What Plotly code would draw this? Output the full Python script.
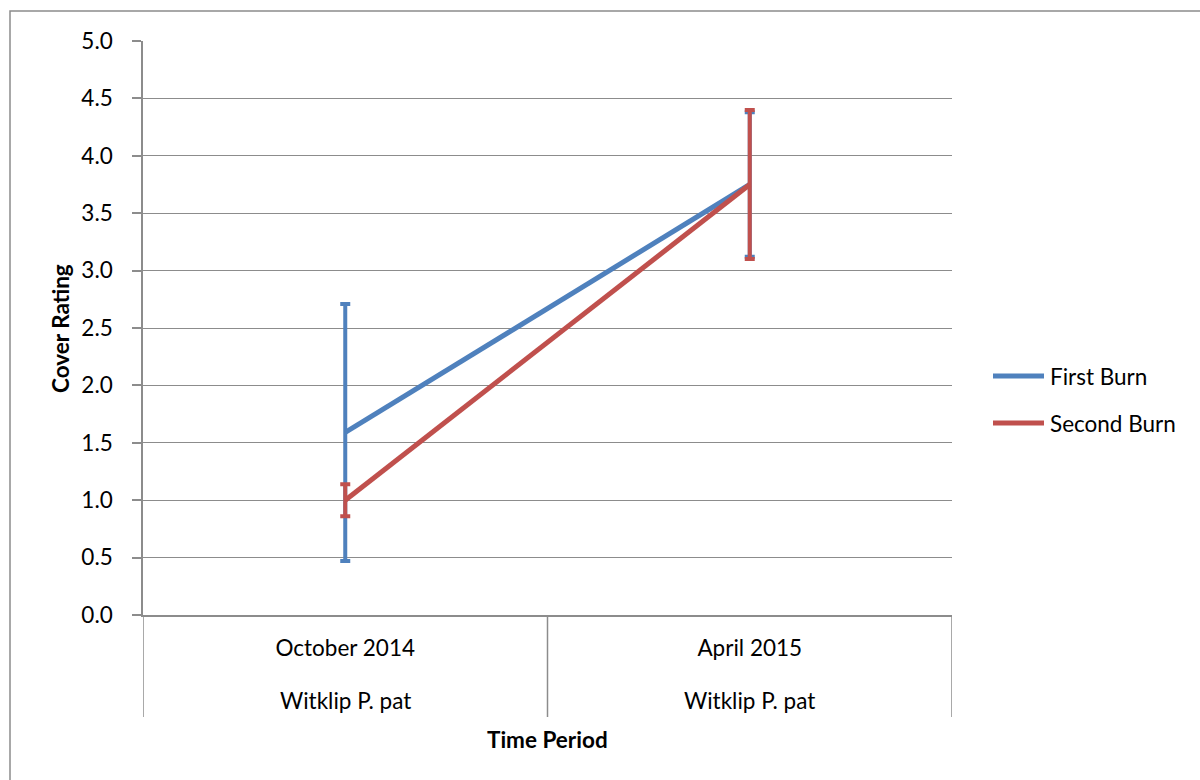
import plotly.graph_objects as go

# Category labels (two-level: period over site)
periods = ["October 2014", "April 2015"]
sites = ["Witklip P. pat", "Witklip P. pat"]

# Mean cover rating and error (± half range) per burn treatment
first_burn = [1.59, 3.75]
first_burn_err = [1.12, 0.63]
second_burn = [1.0, 3.75]
second_burn_err = [0.14, 0.65]

y_ticks = [0.0, 0.5, 1.0, 1.5, 2.0, 2.5, 3.0, 3.5, 4.0, 4.5, 5.0]

BLUE = "#4F81BD"
RED = "#C0504D"
GRID = "#8C8C8C"
FONT = "Lato"
FS = 22.5

xpos = list(range(len(periods)))

fig = go.Figure()
series = [
    ("First Burn", first_burn, first_burn_err, BLUE),
    ("Second Burn", second_burn, second_burn_err, RED),
]
for name, vals, errs, col in series:
    fig.add_trace(go.Scatter(
        x=xpos, y=vals, name=name, mode="lines",
        line=dict(color=col, width=5),
        error_y=dict(type="data", array=errs, visible=True,
                     color=col, thickness=4, width=5),
        showlegend=False,
    ))

L, R, T, B = 143, 248, 41, 165
W, H = 1200, 780
pw, ph = W - L - R, H - T - B


def py(ypix):
    """Pixel row -> paper y coordinate."""
    return (H - B - ypix) / ph


shapes = []
# Category divider lines below the axis
for xv in [-0.5, 0.5, 1.5]:
    shapes.append(dict(type="line", xref="x", yref="paper",
                       x0=xv, x1=xv, y0=0, y1=py(717),
                       line=dict(color=GRID, width=1.5)))
# Outer chart border (left and top edges visible)
shapes.append(dict(type="rect", xref="paper", yref="paper",
                   x0=(10 - L) / pw, x1=(W + 20 - L) / pw,
                   y0=py(H + 20), y1=py(11),
                   line=dict(color="#8C8C8C", width=1.5), layer="below"))

annotations = []
# Second row of category labels
for xv, s in zip(xpos, sites):
    annotations.append(dict(xref="x", yref="paper", x=xv, y=py(700),
                            text=s, showarrow=False, xanchor="center",
                            yanchor="middle",
                            font=dict(family=FONT, size=FS, color="black")))

# Legend drawn as line samples with labels
for i, (name, vals, errs, col) in enumerate(series):
    yp = py(376 + i * 47)
    shapes.append(dict(type="line", xref="paper", yref="paper",
                       x0=(993 - L) / pw, x1=(1044 - L) / pw, y0=yp, y1=yp,
                       line=dict(color=col, width=5)))
    annotations.append(dict(xref="paper", yref="paper",
                            x=(1048 - L) / pw, y=yp, text=name,
                            showarrow=False, xanchor="left", yanchor="middle",
                            font=dict(family=FONT, size=FS, color="black")))

annotations.append(dict(xref="paper", yref="paper", x=0.5, y=py(740),
                        text="<b>Time Period</b>",
                        showarrow=False, xanchor="center", yanchor="middle",
                        font=dict(family=FONT, size=FS, color="black")))
annotations.append(dict(xref="paper", yref="paper", x=(60 - L) / pw,
                        y=py(329), text="<b>Cover Rating</b>", textangle=-90,
                        showarrow=False, xanchor="center", yanchor="middle",
                        font=dict(family=FONT, size=FS, color="black")))

fig.update_layout(
    width=W, height=H,
    margin=dict(l=L, r=R, t=T, b=B),
    plot_bgcolor="white", paper_bgcolor="white",
    font=dict(family=FONT, size=FS, color="black"),
    shapes=shapes, annotations=annotations,
    xaxis=dict(
        tickmode="array", tickvals=xpos, ticktext=periods,
        range=[-0.5, 1.5], showgrid=False, zeroline=False,
        showline=True, linecolor=GRID, linewidth=1.5,
        ticks="", ticklabelstandoff=12,
        tickfont=dict(family=FONT, size=FS, color="black"),
    ),
    yaxis=dict(
        range=[0, 5], tickmode="array", tickvals=y_ticks,
        tickformat=".1f", showgrid=True, gridcolor=GRID, gridwidth=1.2,
        zeroline=False, showline=True, linecolor=GRID, linewidth=1.5,
        ticks="outside", ticklen=9, tickcolor=GRID, tickwidth=1.5,
        ticklabelstandoff=15,
        tickfont=dict(family=FONT, size=FS, color="black"),
    ),
)

fig.write_html("out.html")
